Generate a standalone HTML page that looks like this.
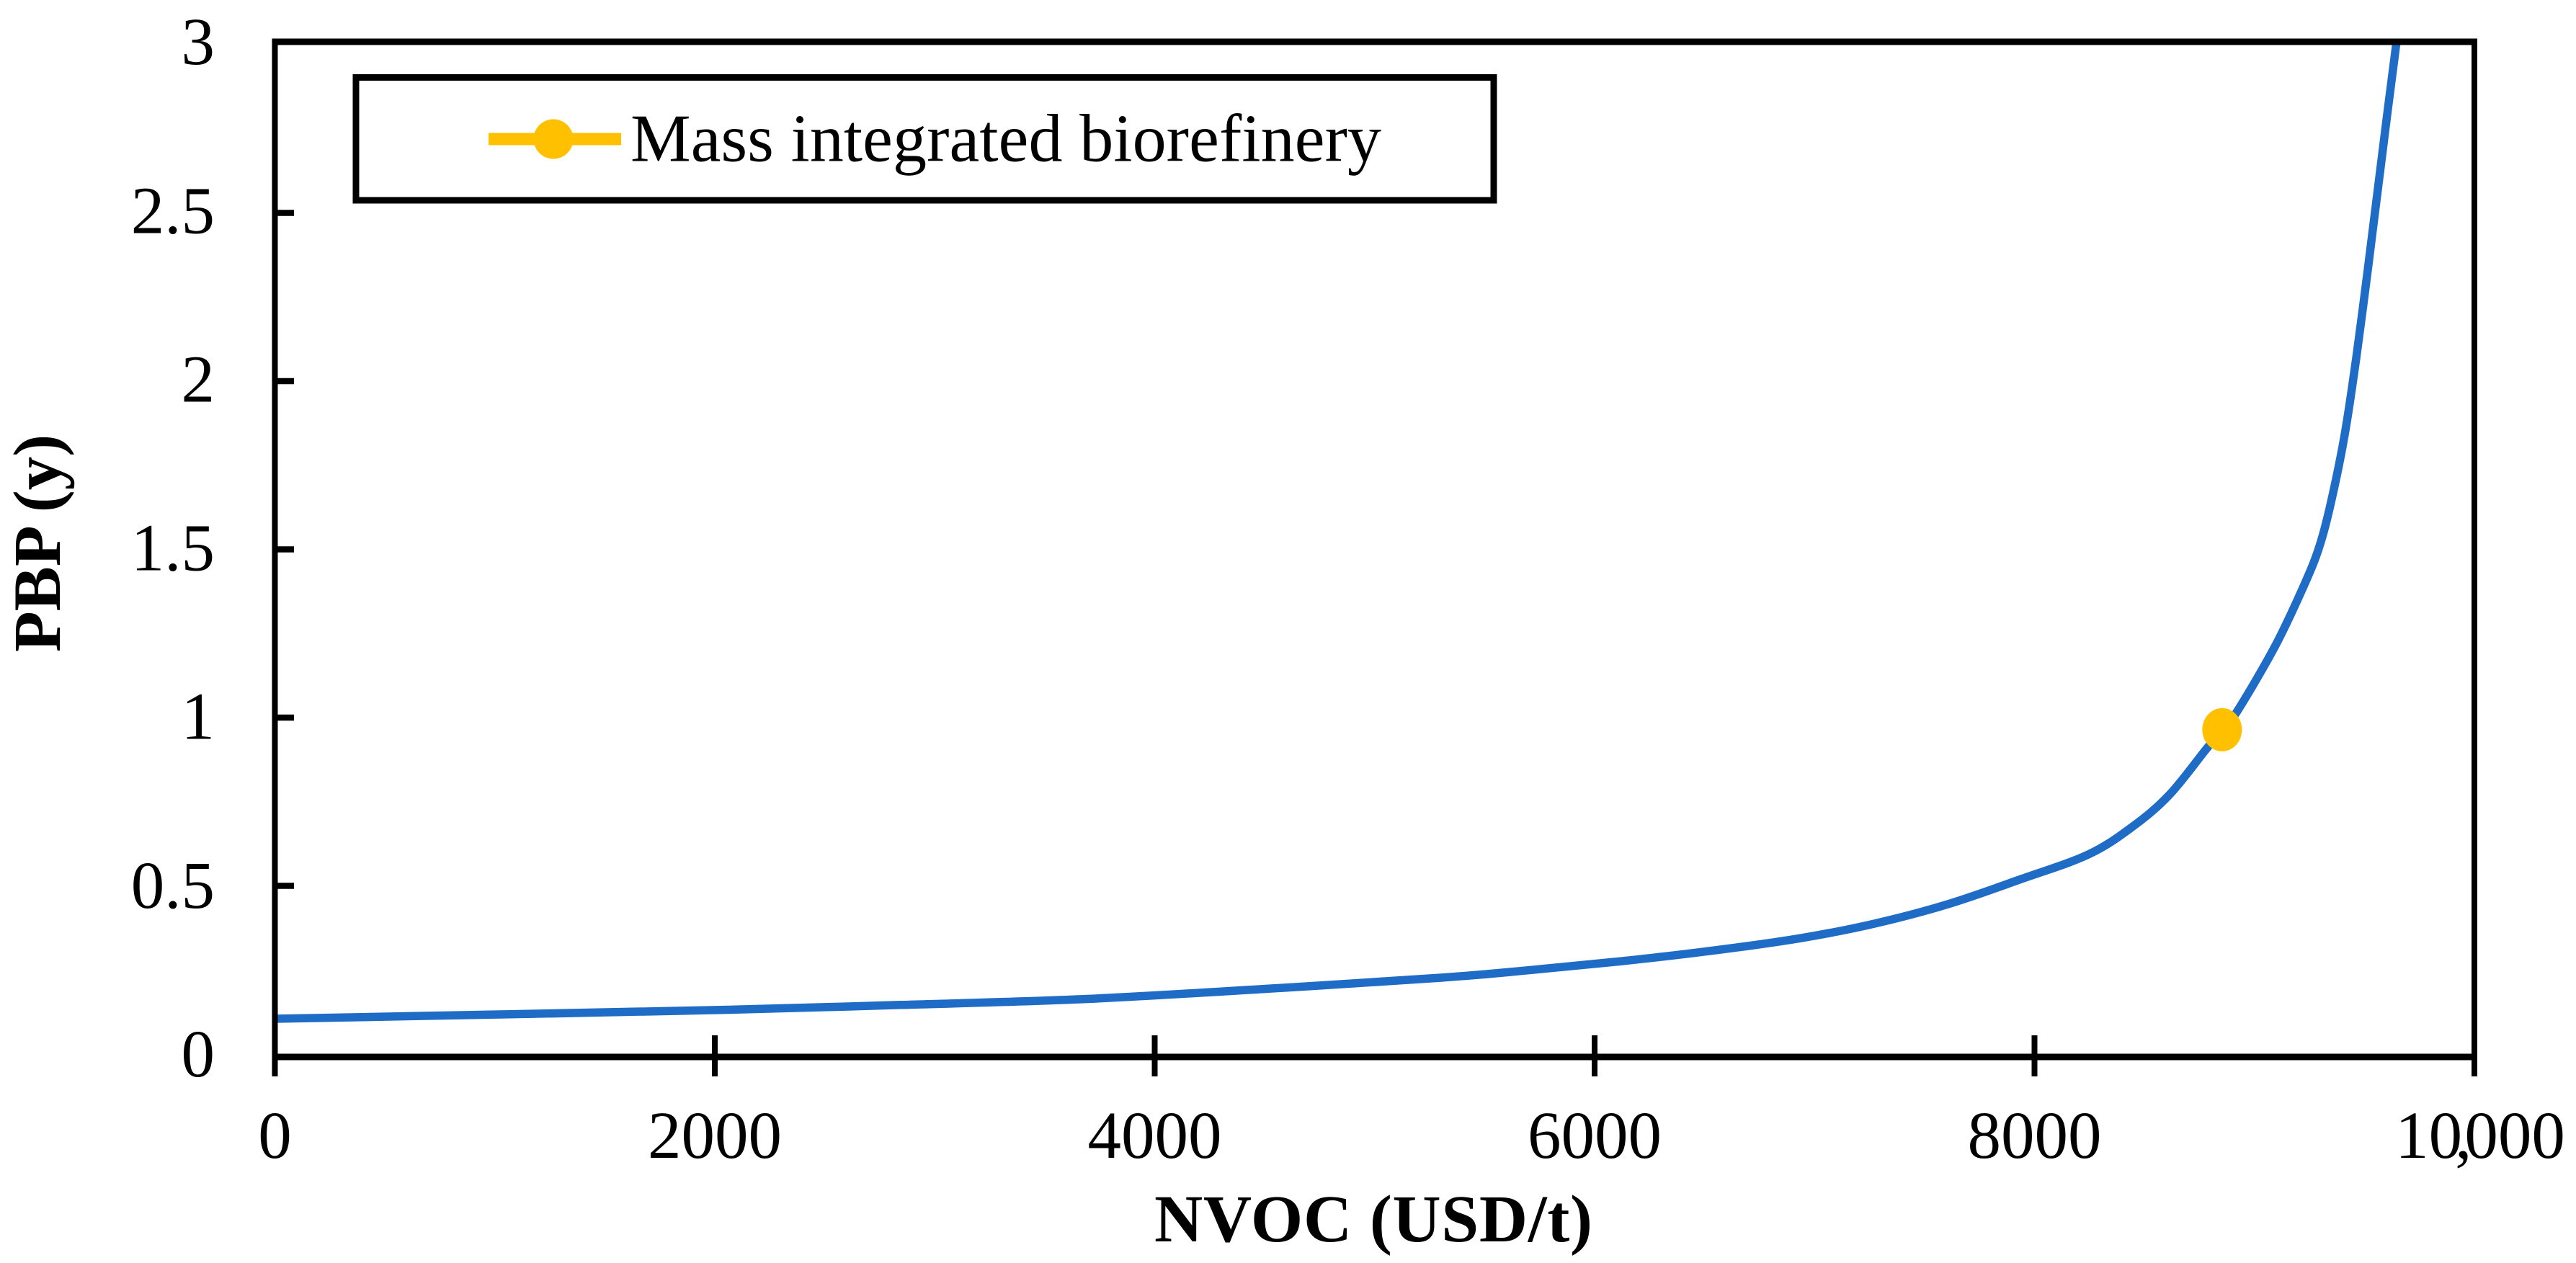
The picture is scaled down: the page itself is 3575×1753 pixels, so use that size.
<!DOCTYPE html>
<html lang="en">
<head>
<meta charset="utf-8">
<title>PBP vs NVOC chart</title>
<style>
  html, body { margin: 0; padding: 0; background: #ffffff; }
  svg { display: block; }
  text { font-family: "Liberation Serif", "Times New Roman", serif; fill: #000; }
</style>
</head>
<body>
<svg id="chart" xmlns="http://www.w3.org/2000/svg" width="3575" height="1753" viewBox="0 0 3575 1753">
  <rect x="0" y="0" width="3575" height="1753" fill="#ffffff"/>
  <g id="ticks"></g>
  <g id="labels"></g>
  <g id="series"></g>
  <path d="M381 58 H3434 M381 1467 H3434" stroke="#000" stroke-width="9" fill="none"/>
  <path d="M381.5 53.5 V1494 M3434 53.5 V1494" stroke="#000" stroke-width="8" fill="none"/>
  <g id="series-marker-layer"></g>

  <g>
    <rect x="494" y="107.5" width="1579" height="170.5" fill="none" stroke="#000" stroke-width="9"/>
    <line x1="678" y1="193" x2="862" y2="193" stroke="#FFC000" stroke-width="17"/>
    <ellipse cx="768" cy="193" rx="27.5" ry="27.5" fill="#FFC000"/>
    <text x="875" y="223.5" font-size="94" textLength="1042" lengthAdjust="spacing">Mass integrated biorefinery</text>
  </g>

  <text x="1602" y="1723" font-size="93" font-weight="700" textLength="608" lengthAdjust="spacing">NVOC (USD/t)</text>
  <text transform="translate(83,905) rotate(-90)" font-size="93" font-weight="700">PBP (y)</text>
</svg>
<script>
// Chart data
const nvocValues = [0, 1045, 2027, 2846, 3665, 4484, 5303, 5712, 6122, 6532, 6941, 7275, 7609, 7943, 8244, 8444, 8611, 8778, 8853, 8922, 9096, 9230, 9296, 9348, 9410, 9463, 9515, 9561, 9607, 9646];
const pbpValues = [0.105, 0.118, 0.131, 0.146, 0.163, 0.193, 0.227, 0.25, 0.276, 0.307, 0.345, 0.388, 0.446, 0.521, 0.593, 0.675, 0.769, 0.904, 0.964, 1.019, 1.215, 1.4, 1.51, 1.64, 1.84, 2.07, 2.33, 2.57, 2.81, 3.008];
const markerNvoc = [8853];
const markerPbp = [0.964];
const xTickValues = [0, 2000, 4000, 6000, 8000, 10000];
const xTickLabels = ["0", "2000", "4000", "6000", "8000", "10,000"];
const yTickValues = [0, 0.5, 1, 1.5, 2, 2.5, 3];
const yTickLabels = ["0", "0.5", "1", "1.5", "2", "2.5", "3"];

const SVG_NS = "http://www.w3.org/2000/svg";
function xScale(v) { return 381.5 + (v / 10000) * 3052.5; }
function yScale(v) { return 1463 - v * 467; }
function yLabelBaseline(v) { return 1494 - v * 468.3; }

function make(tag, attrs, parent) {
  const el = document.createElementNS(SVG_NS, tag);
  for (const k in attrs) el.setAttribute(k, attrs[k]);
  parent.appendChild(el);
  return el;
}

const ticksLayer = document.getElementById("ticks");
const labelsLayer = document.getElementById("labels");
const seriesLayer = document.getElementById("series");
const markerLayer = document.getElementById("series-marker-layer");

xTickValues.forEach(function (value, i) {
  const px = xScale(value);
  const edge = value === 0 || value === 10000;
  const tick = make("line", { x1: px, x2: px, y1: edge ? 1467 : 1437, y2: 1494, stroke: "#000", "stroke-width": 8 }, ticksLayer);
  
  

  const hasComma = xTickLabels[i].indexOf(",") >= 0;
  const label = make("text", { x: hasComma ? px + 8 : px, y: 1607, "font-size": 93, "text-anchor": "middle" }, labelsLayer);
  if (hasComma) label.setAttribute("dx", "0 0 -10 -10 0 0");
  label.textContent = xTickLabels[i];
  
  
});

yTickValues.forEach(function (value, i) {
  const py = yScale(value);
  // The ticks at both ends of the range merge into the plot frame in the reference
  if (value > 0 && value < 3) {
    const tick = make("line", { x1: 381, x2: 408, y1: py, y2: py, stroke: "#000", "stroke-width": 8.5 }, ticksLayer);
    
    
  }

  const label = make("text", { x: 298, y: yLabelBaseline(value), "font-size": 93, "text-anchor": "end" }, labelsLayer);
  label.textContent = yTickLabels[i];
  
  
});

// Smooth curve through the data points (Catmull-Rom to Bezier)
const pts = nvocValues.map(function (v, i) { return [xScale(v), yScale(pbpValues[i])]; });
let d = "M" + pts[0][0].toFixed(1) + " " + pts[0][1].toFixed(1);
for (let i = 0; i < pts.length - 1; i++) {
  const p0 = pts[Math.max(i - 1, 0)];
  const p1 = pts[i];
  const p2 = pts[i + 1];
  const p3 = pts[Math.min(i + 2, pts.length - 1)];
  const c1x = p1[0] + (p2[0] - p0[0]) / 6;
  const c1y = p1[1] + (p2[1] - p0[1]) / 6;
  const c2x = p2[0] - (p3[0] - p1[0]) / 6;
  const c2y = p2[1] - (p3[1] - p1[1]) / 6;
  d += " C" + c1x.toFixed(1) + " " + c1y.toFixed(1) + " " + c2x.toFixed(1) + " " + c2y.toFixed(1) + " " + p2[0].toFixed(1) + " " + p2[1].toFixed(1);
}
const curve = make("path", { d: d, fill: "none", stroke: "#1F6CC6", "stroke-width": 11.5, "stroke-linejoin": "round" }, seriesLayer);



markerNvoc.forEach(function (v, i) {
  const dot = make("ellipse", { cx: xScale(v), cy: yScale(markerPbp[i]), rx: 27.5, ry: 30, fill: "#FFC000" }, markerLayer);
  
  
});
</script>
</body>
</html>
